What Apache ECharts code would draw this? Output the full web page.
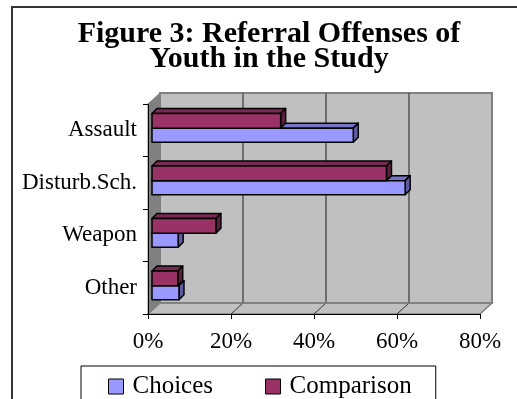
<!DOCTYPE html>
<html>
<head>
<meta charset="utf-8">
<script src="https://cdn.jsdelivr.net/npm/echarts@6/dist/echarts.min.js"></script>
<style>
html,body{margin:0;padding:0;background:#fff;}
#chart{width:517px;height:399px;}
</style>
</head>
<body>
<div id="chart"></div>
<script>
const categories = ['Assault', 'Disturb.Sch.', 'Weapon', 'Other'];
const choices = [48.5, 61, 6.3, 6.5];
const comparison = [31, 56.5, 15.4, 6.2];
const xTickValues = [0, 20, 40, 60, 80];
const titleText = 'Figure 3: Referral Offenses of\nYouth in the Study';

const FONT = '"Liberation Serif", "Times New Roman", serif';
const DX = 12, DY = 11;   // wall depth
const BD = 5;             // bar depth

const chart = echarts.init(document.getElementById('chart'));

function wallRender(params, api) {
  const cs = params.coordSys;
  const x0 = cs.x, x1 = cs.x + cs.width, yT = cs.y, yB = cs.y + cs.height;
  const children = [];
  children.push({type: 'rect', shape: {x: x0 + DX, y: yT - DY, width: x1 - x0, height: yB - yT},
    style: {fill: '#c0c0c0', stroke: '#808080', lineWidth: 2}});
  children.push({type: 'polygon', shape: {points: [[x0, yT], [x0 + DX, yT - DY], [x0 + DX, yB - DY], [x0, yB]]},
    style: {fill: '#808080', stroke: '#808080', lineWidth: 1}});
  children.push({type: 'polygon', shape: {points: [[x0, yB], [x1, yB], [x1 + DX, yB - DY], [x0 + DX, yB - DY]]},
    style: {fill: '#c0c0c0', stroke: '#808080', lineWidth: 1.5}});
  xTickValues.slice(1, -1).forEach(v => {
    const x = api.coord([v, 0])[0];
    children.push({type: 'line', shape: {x1: x + DX, y1: yT - DY, x2: x + DX, y2: yB - DY},
      style: {stroke: '#555', lineWidth: 1.5}});
    children.push({type: 'line', shape: {x1: x, y1: yB, x2: x + DX, y2: yB - DY},
      style: {stroke: '#333', lineWidth: 1}});
  });
  children.push({type: 'line', shape: {x1: x0 + DX, y1: yB - DY, x2: x1 + DX, y2: yB - DY},
    style: {stroke: '#808080', lineWidth: 1.5}});
  return {type: 'group', children};
}

function barRenderer(f0, f1, front, top, side) {
  return function (params, api) {
    const v = api.value(0), i = api.value(1);
    const s = api.coord([0, i]);
    const e = api.coord([v, i]);
    const band = api.size([0, 1])[1];
    const bt = s[1] - band / 2;
    const xa = s[0] + 4, xb = e[0] + 4;
    const y0 = bt + band * f0, y1 = bt + band * f1;
    const st = {stroke: '#000', lineWidth: 1.5, lineJoin: 'round'};
    return {type: 'group', children: [
      {type: 'polygon', shape: {points: [[xa, y0], [xa + BD, y0 - BD], [xb + BD, y0 - BD], [xb, y0]]},
        style: Object.assign({fill: top}, st)},
      {type: 'polygon', shape: {points: [[xb, y0], [xb + BD, y0 - BD], [xb + BD, y1 - BD], [xb, y1]]},
        style: Object.assign({fill: side}, st)},
      {type: 'rect', shape: {x: xa, y: y0, width: xb - xa, height: y1 - y0},
        style: Object.assign({fill: front}, st)}
    ]};
  };
}

const option = {
  animation: false,
  backgroundColor: '#fff',
  grid: {left: 148, right: 37, top: 104, bottom: 85, containLabel: false},
  xAxis: {
    type: 'value', min: 0, max: 80, interval: 20,
    axisLine: {show: true, lineStyle: {color: '#000', width: 1}},
    axisTick: {show: true, length: 5, lineStyle: {color: '#000'}},
    splitLine: {show: false},
    axisLabel: {formatter: '{value}%', margin: 16, fontSize: 23, fontFamily: FONT, color: '#000'}
  },
  yAxis: {
    type: 'category', data: categories, inverse: true,
    axisLine: {show: true, lineStyle: {color: '#000', width: 1}},
    axisTick: {show: true, length: 5, lineStyle: {color: '#000'}},
    axisLabel: {margin: 11, fontSize: 23, fontFamily: FONT, color: '#000'}
  },
  legend: {
    data: ['Choices', 'Comparison'],
    left: 81, top: 366,
    padding: [8, 24, 20, 27],
    itemGap: 52,
    itemWidth: 15, itemHeight: 15,
    icon: 'rect',
    borderColor: '#000', borderWidth: 1,
    itemStyle: {borderColor: '#000', borderWidth: 1},
    textStyle: {fontSize: 25, fontFamily: FONT, color: '#000', padding: [0, 0, 0, 4]}
  },
  graphic: [
    {type: 'rect', shape: {x: 12, y: 7, width: 520, height: 420}, style: {fill: 'none', stroke: '#333', lineWidth: 2}, z: 100},
    {type: 'text', x: 269, y: 22, style: {text: titleText, font: 'bold 30px ' + FONT, fill: '#000', textAlign: 'center', lineHeight: 25}, z: 100}
  ],
  series: [
    {type: 'custom', name: 'wall', z: 0, silent: true, renderItem: wallRender, data: [[0, 0]], encode: {x: 0, y: 1}},
    {type: 'custom', name: 'Choices', z: 3, itemStyle: {color: '#9999ff'},
      renderItem: barRenderer(0.46, 0.73, '#9999ff', '#7373c8', '#5c5ca0'),
      data: choices.map((v, i) => [v, i]), encode: {x: 0, y: 1}},
    {type: 'custom', name: 'Comparison', z: 4, itemStyle: {color: '#993366'},
      renderItem: barRenderer(0.18, 0.46, '#993366', '#7a2952', '#5c1f3d'),
      data: comparison.map((v, i) => [v, i]), encode: {x: 0, y: 1}}
  ]
};
chart.setOption(option);
</script>
</body>
</html>
